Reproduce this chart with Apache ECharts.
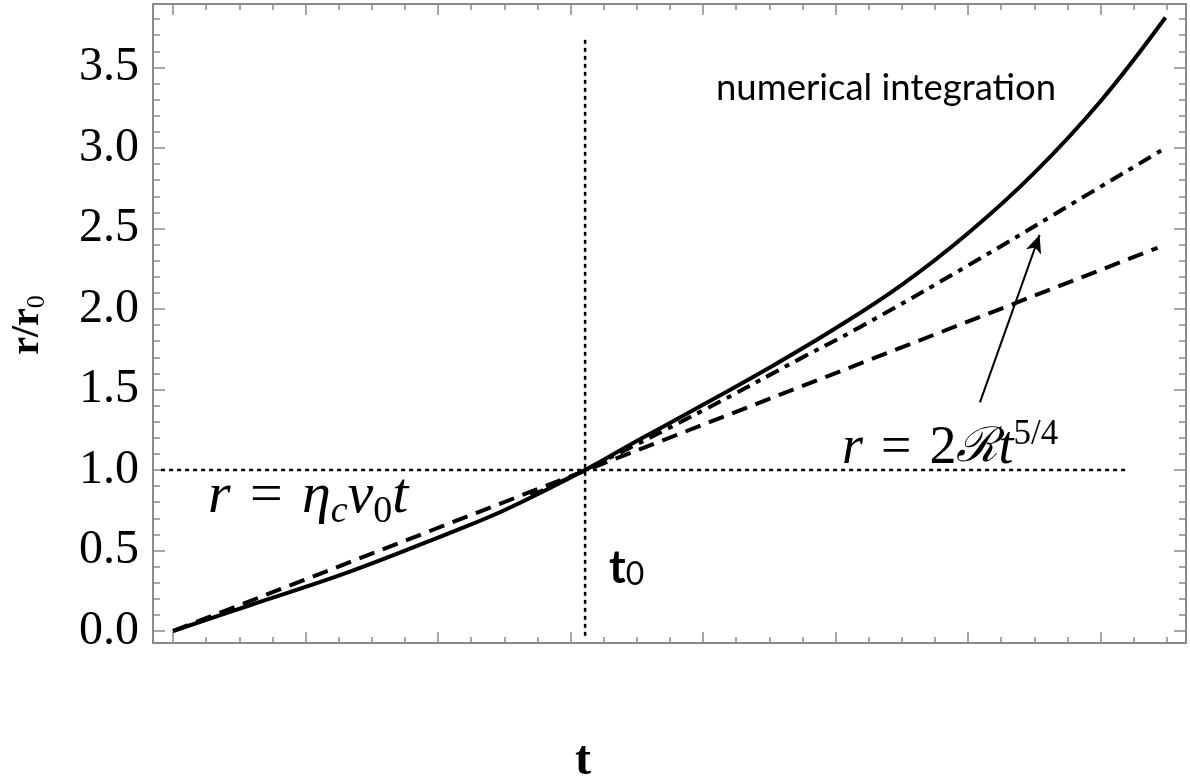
<!DOCTYPE html>
<html>
<head>
<meta charset="utf-8">
<script src="https://cdn.jsdelivr.net/npm/echarts@6/dist/echarts.min.js"></script>
<style>
html,body{margin:0;padding:0;background:#fff;}
#c{width:1190px;height:783px;}
</style>
</head>
<body>
<div id="c"></div>
<script>
// ---- data ----
const solidT = [0, 0.58, 1.34, 2.09, 2.5, 3.11, 3.5, 4.0, 4.5, 5.0, 5.5, 6.0, 6.5, 7.0, 7.49];
const solidR = [0, 0.16, 0.37, 0.61, 0.75, 1.0, 1.18, 1.405, 1.635, 1.88, 2.15, 2.47, 2.845, 3.29, 3.81];
const linearT = [0, 7.43];
const linearR = [0, 2.38];
const powerT = [2.7, 3.11, 4.0, 4.73, 5.19, 6.0, 6.9, 7.49];
const powerR = [0.84, 1.0, 1.37, 1.69, 1.89, 2.27, 2.71, 3.0];
const refHT = [-0.09, 7.19];
const refHR = [1.0, 1.0];
const refVT = [3.11, 3.11];
const refVR = [-0.03, 3.69];
const arrowT = [6.09, 6.54];
const arrowR = [1.42, 2.46];

const tMajor = [0, 1, 2, 3, 4, 5, 6, 7];
const tMinor = [0.25,0.5,0.75,1.25,1.5,1.75,2.25,2.5,2.75,3.25,3.5,3.75,4.25,4.5,4.75,5.25,5.5,5.75,6.25,6.5,6.75,7.25,7.5];
const rMajor = [0, 0.5, 1.0, 1.5, 2.0, 2.5, 3.0, 3.5];
const rLabels = ['0.0','0.5','1.0','1.5','2.0','2.5','3.0','3.5'];
const rMinor = [0.1,0.2,0.3,0.4,0.6,0.7,0.8,0.9,1.1,1.2,1.3,1.4,1.6,1.7,1.8,1.9,2.1,2.2,2.3,2.4,2.6,2.7,2.8,2.9,3.1,3.2,3.3,3.4,3.6,3.7,3.8];

const T_MIN = -0.151, T_MAX = 7.645, R_MIN = -0.0745, R_MAX = 3.894;

function zip(a, b) { return a.map((v, i) => [v, b[i]]); }

const frameColor = '#8a8a8a';
const gridRect = { left: 153, right: 4, top: 4, bottom: 140 };

function xAx(gridIndex, position, ticks, len, showLine) {
  return {
    type: 'value', gridIndex, position, min: T_MIN, max: T_MAX,
    axisLine: { show: showLine, onZero: false, lineStyle: { color: frameColor, width: 2 } },
    axisTick: { show: true, inside: true, length: len, customValues: ticks, lineStyle: { color: frameColor, width: 1.5 } },
    axisLabel: { show: false }, splitLine: { show: false }
  };
}
function yAx(gridIndex, position, ticks, len, showLine, labels) {
  return {
    type: 'value', gridIndex, position, min: R_MIN, max: R_MAX,
    axisLine: { show: showLine, onZero: false, lineStyle: { color: frameColor, width: 2 } },
    axisTick: { show: true, inside: true, length: len, customValues: ticks, lineStyle: { color: frameColor, width: 1.5 } },
    axisLabel: labels ? {
      show: true, customValues: rMajor, margin: 14,
      fontFamily: 'Liberation Serif', fontSize: 48, color: '#000',
      formatter: v => { const i = rMajor.findIndex(m => Math.abs(m - v) < 1e-6); return i >= 0 ? rLabels[i] : ''; }
    } : { show: false },
    splitLine: { show: false }
  };
}

function mathStyles(fs, subFs) {
  const base = { fill: '#000' };
  return {
    it: Object.assign({ fontFamily: 'Liberation Serif', fontStyle: 'italic', fontSize: fs, lineHeight: fs + 10, verticalAlign: 'middle' }, base),
    n: Object.assign({ fontFamily: 'Liberation Serif', fontSize: fs, lineHeight: fs + 10, verticalAlign: 'middle' }, base),
    sub: Object.assign({ fontFamily: 'Liberation Serif', fontStyle: 'italic', fontSize: subFs, lineHeight: subFs, verticalAlign: 'bottom' }, base),
    sub0: Object.assign({ fontFamily: 'Liberation Serif', fontSize: subFs, lineHeight: subFs, verticalAlign: 'bottom' }, base),
    sup: Object.assign({ fontFamily: 'Liberation Serif', fontSize: subFs, lineHeight: subFs, verticalAlign: 'top' }, base),
    sr: Object.assign({ fontFamily: 'DejaVu Serif', fontStyle: 'italic', fontSize: fs - 6, lineHeight: fs + 10, verticalAlign: 'middle' }, base)
  };
}

const chart = echarts.init(document.getElementById('c'), null, { renderer: 'canvas' });

chart.setOption({
  animation: false,
  backgroundColor: '#fff',
  grid: [
    Object.assign({ containLabel: false }, gridRect),
    Object.assign({ containLabel: false }, gridRect)
  ],
  xAxis: [
    xAx(0, 'bottom', tMajor, 11, true),
    xAx(0, 'top', tMajor, 11, true),
    xAx(1, 'bottom', tMinor, 6, false),
    xAx(1, 'top', tMinor, 6, false)
  ],
  yAxis: [
    yAx(0, 'left', rMajor, 12, true, true),
    yAx(0, 'right', rMajor, 12, true, false),
    yAx(1, 'left', rMinor, 7, false, false),
    yAx(1, 'right', rMinor, 7, false, false)
  ],
  series: [
    { type: 'line', xAxisIndex: 0, yAxisIndex: 0, data: zip(refHT, refHR), showSymbol: false, silent: true,
      lineStyle: { color: '#000', width: 2.5, type: [4, 4] } },
    { type: 'line', xAxisIndex: 0, yAxisIndex: 0, data: zip(refVT, refVR), showSymbol: false, silent: true,
      lineStyle: { color: '#000', width: 2.5, type: [4, 4] } },
    { type: 'line', xAxisIndex: 0, yAxisIndex: 0, data: zip(linearT, linearR), showSymbol: false,
      lineStyle: { color: '#000', width: 4, type: [16, 9] } },
    { type: 'line', xAxisIndex: 0, yAxisIndex: 0, data: zip(powerT, powerR), showSymbol: false, smooth: 0.5,
      lineStyle: { color: '#000', width: 4, type: [14, 7, 5, 7] } },
    { type: 'line', xAxisIndex: 0, yAxisIndex: 0, data: zip(solidT, solidR), showSymbol: false, smooth: 0.4,
      lineStyle: { color: '#000', width: 4 } },
    { type: 'line', xAxisIndex: 0, yAxisIndex: 0, data: [], showSymbol: false,
      markLine: { silent: true, animation: false, symbol: ['none', 'arrow'], symbolSize: [12, 18], label: { show: false },
        lineStyle: { color: '#000', width: 2, type: 'solid' },
        data: [[{ coord: [arrowT[0], arrowR[0]] }, { coord: [arrowT[1], arrowR[1]] }]] } }
  ],
  graphic: [
    { type: 'text', x: 716, y: 88, z: 100,
      style: { text: 'numerical integration', fontFamily: 'Lato', fontSize: 36.5, fill: '#000', textVerticalAlign: 'middle' } },
    { type: 'text', x: 208, y: 497, z: 100,
      style: { text: '{it|r}{n|\u2004=\u2004}{it|η}{sub|c}{it|v}{sub0|0}{it|t}', textVerticalAlign: 'middle',
        rich: mathStyles(58, 38) } },
    { type: 'text', x: 842, y: 449, z: 100,
      style: { text: '{it|r}{n|\u2004=\u2004}{n|2}{sr|ℛ}{it|t}{sup|5/4}', textVerticalAlign: 'middle',
        rich: mathStyles(54, 35) } },
    { type: 'text', x: 609, y: 566, z: 100,
      style: { text: '{t|t}{z|0}', textVerticalAlign: 'middle',
        rich: { t: { fontFamily: 'Lato', fontWeight: 'bold', fontSize: 45, lineHeight: 50, fill: '#000', verticalAlign: 'bottom' },
                z: { fontFamily: 'Lato', fontSize: 32, lineHeight: 35, fill: '#000', verticalAlign: 'bottom' } } } },
    { type: 'text', x: 583, y: 762, z: 100,
      style: { text: 't', fontFamily: 'Liberation Serif', fontWeight: 'bold', fontSize: 48, fill: '#000', textAlign: 'center', textVerticalAlign: 'middle' } },
    { type: 'text', x: 28, y: 325, z: 100, rotation: Math.PI / 2,
      style: { text: '{r|r/r}{z|0}', textAlign: 'center', textVerticalAlign: 'middle',
        rich: { r: { fontFamily: 'Liberation Serif', fontWeight: 'bold', fontSize: 40, lineHeight: 44, fill: '#000', verticalAlign: 'middle' },
                z: { fontFamily: 'Liberation Serif', fontSize: 26, lineHeight: 26, fill: '#000', verticalAlign: 'bottom' } } } }
  ]
});
</script>
</body>
</html>
